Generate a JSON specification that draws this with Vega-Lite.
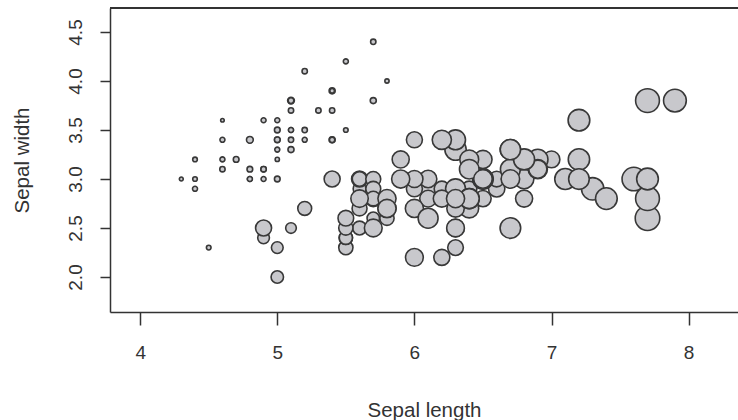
{
  "$schema": "https://vega.github.io/schema/vega-lite/v6.json",
  "autosize": {"type": "none"},
  "padding": {"left": 110, "top": 8, "right": 0, "bottom": 108},
  "width": 628,
  "height": 304,
  "background": "white",
  "config": {
    "view": {"stroke": null},
    "font": "Liberation Sans"
  },
  "data": {"values": [
    {"sl":5.1,"sw":3.5,"pl":1.4},{"sl":4.9,"sw":3.0,"pl":1.4},{"sl":4.7,"sw":3.2,"pl":1.3},{"sl":4.6,"sw":3.1,"pl":1.5},{"sl":5.0,"sw":3.6,"pl":1.4},
    {"sl":5.4,"sw":3.9,"pl":1.7},{"sl":4.6,"sw":3.4,"pl":1.4},{"sl":5.0,"sw":3.4,"pl":1.5},{"sl":4.4,"sw":2.9,"pl":1.4},{"sl":4.9,"sw":3.1,"pl":1.5},
    {"sl":5.4,"sw":3.7,"pl":1.5},{"sl":4.8,"sw":3.4,"pl":1.6},{"sl":4.8,"sw":3.0,"pl":1.4},{"sl":4.3,"sw":3.0,"pl":1.1},{"sl":5.8,"sw":4.0,"pl":1.2},
    {"sl":5.7,"sw":4.4,"pl":1.5},{"sl":5.4,"sw":3.9,"pl":1.3},{"sl":5.1,"sw":3.5,"pl":1.4},{"sl":5.7,"sw":3.8,"pl":1.7},{"sl":5.1,"sw":3.8,"pl":1.5},
    {"sl":5.4,"sw":3.4,"pl":1.7},{"sl":5.1,"sw":3.7,"pl":1.5},{"sl":4.6,"sw":3.6,"pl":1.0},{"sl":5.1,"sw":3.3,"pl":1.7},{"sl":4.8,"sw":3.4,"pl":1.9},
    {"sl":5.0,"sw":3.0,"pl":1.6},{"sl":5.0,"sw":3.4,"pl":1.6},{"sl":5.2,"sw":3.5,"pl":1.5},{"sl":5.2,"sw":3.4,"pl":1.4},{"sl":4.7,"sw":3.2,"pl":1.6},
    {"sl":4.8,"sw":3.1,"pl":1.6},{"sl":5.4,"sw":3.4,"pl":1.5},{"sl":5.2,"sw":4.1,"pl":1.5},{"sl":5.5,"sw":4.2,"pl":1.4},{"sl":4.9,"sw":3.1,"pl":1.5},
    {"sl":5.0,"sw":3.2,"pl":1.2},{"sl":5.5,"sw":3.5,"pl":1.3},{"sl":4.9,"sw":3.6,"pl":1.4},{"sl":4.4,"sw":3.0,"pl":1.3},{"sl":5.1,"sw":3.4,"pl":1.5},
    {"sl":5.0,"sw":3.5,"pl":1.3},{"sl":4.5,"sw":2.3,"pl":1.3},{"sl":4.4,"sw":3.2,"pl":1.3},{"sl":5.0,"sw":3.5,"pl":1.6},{"sl":5.1,"sw":3.8,"pl":1.9},
    {"sl":4.8,"sw":3.0,"pl":1.4},{"sl":5.1,"sw":3.8,"pl":1.6},{"sl":4.6,"sw":3.2,"pl":1.4},{"sl":5.3,"sw":3.7,"pl":1.5},{"sl":5.0,"sw":3.3,"pl":1.4},
    {"sl":7.0,"sw":3.2,"pl":4.7},{"sl":6.4,"sw":3.2,"pl":4.5},{"sl":6.9,"sw":3.1,"pl":4.9},{"sl":5.5,"sw":2.3,"pl":4.0},{"sl":6.5,"sw":2.8,"pl":4.6},
    {"sl":5.7,"sw":2.8,"pl":4.5},{"sl":6.3,"sw":3.3,"pl":4.7},{"sl":4.9,"sw":2.4,"pl":3.3},{"sl":6.6,"sw":2.9,"pl":4.6},{"sl":5.2,"sw":2.7,"pl":3.9},
    {"sl":5.0,"sw":2.0,"pl":3.5},{"sl":5.9,"sw":3.0,"pl":4.2},{"sl":6.0,"sw":2.2,"pl":4.0},{"sl":6.1,"sw":2.9,"pl":4.7},{"sl":5.6,"sw":2.9,"pl":3.6},
    {"sl":6.7,"sw":3.1,"pl":4.4},{"sl":5.6,"sw":3.0,"pl":4.5},{"sl":5.8,"sw":2.7,"pl":4.1},{"sl":6.2,"sw":2.2,"pl":4.5},{"sl":5.6,"sw":2.5,"pl":3.9},
    {"sl":5.9,"sw":3.2,"pl":4.8},{"sl":6.1,"sw":2.8,"pl":4.0},{"sl":6.3,"sw":2.5,"pl":4.9},{"sl":6.1,"sw":2.8,"pl":4.7},{"sl":6.4,"sw":2.9,"pl":4.3},
    {"sl":6.6,"sw":3.0,"pl":4.4},{"sl":6.8,"sw":2.8,"pl":4.8},{"sl":6.7,"sw":3.0,"pl":5.0},{"sl":6.0,"sw":2.9,"pl":4.5},{"sl":5.7,"sw":2.6,"pl":3.5},
    {"sl":5.5,"sw":2.4,"pl":3.8},{"sl":5.5,"sw":2.4,"pl":3.7},{"sl":5.8,"sw":2.7,"pl":3.9},{"sl":6.0,"sw":2.7,"pl":5.1},{"sl":5.4,"sw":3.0,"pl":4.5},
    {"sl":6.0,"sw":3.4,"pl":4.5},{"sl":6.7,"sw":3.1,"pl":4.7},{"sl":6.3,"sw":2.3,"pl":4.4},{"sl":5.6,"sw":3.0,"pl":4.1},{"sl":5.5,"sw":2.5,"pl":4.0},
    {"sl":5.5,"sw":2.6,"pl":4.4},{"sl":6.1,"sw":3.0,"pl":4.6},{"sl":5.8,"sw":2.6,"pl":4.0},{"sl":5.0,"sw":2.3,"pl":3.3},{"sl":5.6,"sw":2.7,"pl":4.2},
    {"sl":5.7,"sw":3.0,"pl":4.2},{"sl":5.7,"sw":2.9,"pl":4.2},{"sl":6.2,"sw":2.9,"pl":4.3},{"sl":5.1,"sw":2.5,"pl":3.0},{"sl":5.7,"sw":2.8,"pl":4.1},
    {"sl":6.3,"sw":3.3,"pl":6.0},{"sl":5.8,"sw":2.7,"pl":5.1},{"sl":7.1,"sw":3.0,"pl":5.9},{"sl":6.3,"sw":2.9,"pl":5.6},{"sl":6.5,"sw":3.0,"pl":5.8},
    {"sl":7.6,"sw":3.0,"pl":6.6},{"sl":4.9,"sw":2.5,"pl":4.5},{"sl":7.3,"sw":2.9,"pl":6.3},{"sl":6.7,"sw":2.5,"pl":5.8},{"sl":7.2,"sw":3.6,"pl":6.1},
    {"sl":6.5,"sw":3.2,"pl":5.1},{"sl":6.4,"sw":2.7,"pl":5.3},{"sl":6.8,"sw":3.0,"pl":5.5},{"sl":5.7,"sw":2.5,"pl":5.0},{"sl":5.8,"sw":2.8,"pl":5.1},
    {"sl":6.4,"sw":3.2,"pl":5.3},{"sl":6.5,"sw":3.0,"pl":5.5},{"sl":7.7,"sw":3.8,"pl":6.7},{"sl":7.7,"sw":2.6,"pl":6.9},{"sl":6.0,"sw":2.2,"pl":5.0},
    {"sl":6.9,"sw":3.2,"pl":5.7},{"sl":5.6,"sw":2.8,"pl":4.9},{"sl":7.7,"sw":2.8,"pl":6.7},{"sl":6.3,"sw":2.7,"pl":4.9},{"sl":6.7,"sw":3.3,"pl":5.7},
    {"sl":7.2,"sw":3.2,"pl":6.0},{"sl":6.2,"sw":2.8,"pl":4.8},{"sl":6.1,"sw":3.0,"pl":4.9},{"sl":6.4,"sw":2.8,"pl":5.6},{"sl":7.2,"sw":3.0,"pl":5.8},
    {"sl":7.4,"sw":2.8,"pl":6.1},{"sl":7.9,"sw":3.8,"pl":6.4},{"sl":6.4,"sw":2.8,"pl":5.6},{"sl":6.3,"sw":2.8,"pl":5.1},{"sl":6.1,"sw":2.6,"pl":5.6},
    {"sl":7.7,"sw":3.0,"pl":6.1},{"sl":6.3,"sw":3.4,"pl":5.6},{"sl":6.4,"sw":3.1,"pl":5.5},{"sl":6.0,"sw":3.0,"pl":4.8},{"sl":6.9,"sw":3.1,"pl":5.4},
    {"sl":6.7,"sw":3.1,"pl":5.6},{"sl":6.9,"sw":3.1,"pl":5.1},{"sl":5.8,"sw":2.7,"pl":5.1},{"sl":6.8,"sw":3.2,"pl":5.9},{"sl":6.7,"sw":3.3,"pl":5.7},
    {"sl":6.7,"sw":3.0,"pl":5.2},{"sl":6.3,"sw":2.5,"pl":5.0},{"sl":6.5,"sw":3.0,"pl":5.2},{"sl":6.2,"sw":3.4,"pl":5.4},{"sl":5.9,"sw":3.0,"pl":5.1}
  ]},
  "layer": [
    {
      "mark": {"type": "circle", "opacity": 1, "fill": "#c8c8cc", "stroke": "#383838", "strokeWidth": 1.6},
      "encoding": {
        "x": {
          "field": "sl", "type": "quantitative",
          "scale": {"domain": [3.78, 8.36], "nice": false, "zero": false},
          "axis": {
            "title": "Sepal length", "values": [4, 5, 6, 7, 8], "format": "d",
            "grid": false, "domainColor": "#333", "domainWidth": 1.5,
            "tickColor": "#333", "tickWidth": 1.5, "tickSize": 13,
            "labelFontSize": 19, "labelColor": "#333", "labelPadding": 18,
            "titleFontSize": 20.5, "titleFontWeight": "normal", "titleColor": "#333", "titlePadding": 38
          }
        },
        "y": {
          "field": "sw", "type": "quantitative",
          "scale": {"domain": [1.643, 4.745], "nice": false, "zero": false},
          "axis": {
            "title": "Sepal width", "values": [2, 2.5, 3, 3.5, 4, 4.5], "format": ".1f",
            "grid": false, "domainColor": "#333", "domainWidth": 1.5,
            "tickColor": "#333", "tickWidth": 1.5, "tickSize": 10,
            "labelAngle": 270, "labelAlign": "center", "labelBaseline": "bottom",
            "labelFontSize": 19, "labelColor": "#333", "labelPadding": 15,
            "titleFontSize": 20.5, "titleFontWeight": "normal", "titleColor": "#333", "titlePadding": 34
          }
        },
        "size": {
          "field": "pl", "type": "quantitative",
          "scale": {"type": "pow", "exponent": 2, "domain": [0, 7], "range": [0, 620]},
          "legend": null
        }
      }
    },
    {
      "mark": {"type": "rule", "color": "#333", "strokeWidth": 1.5},
      "encoding": {"y": {"datum": 4.745}}
    }
  ]
}
